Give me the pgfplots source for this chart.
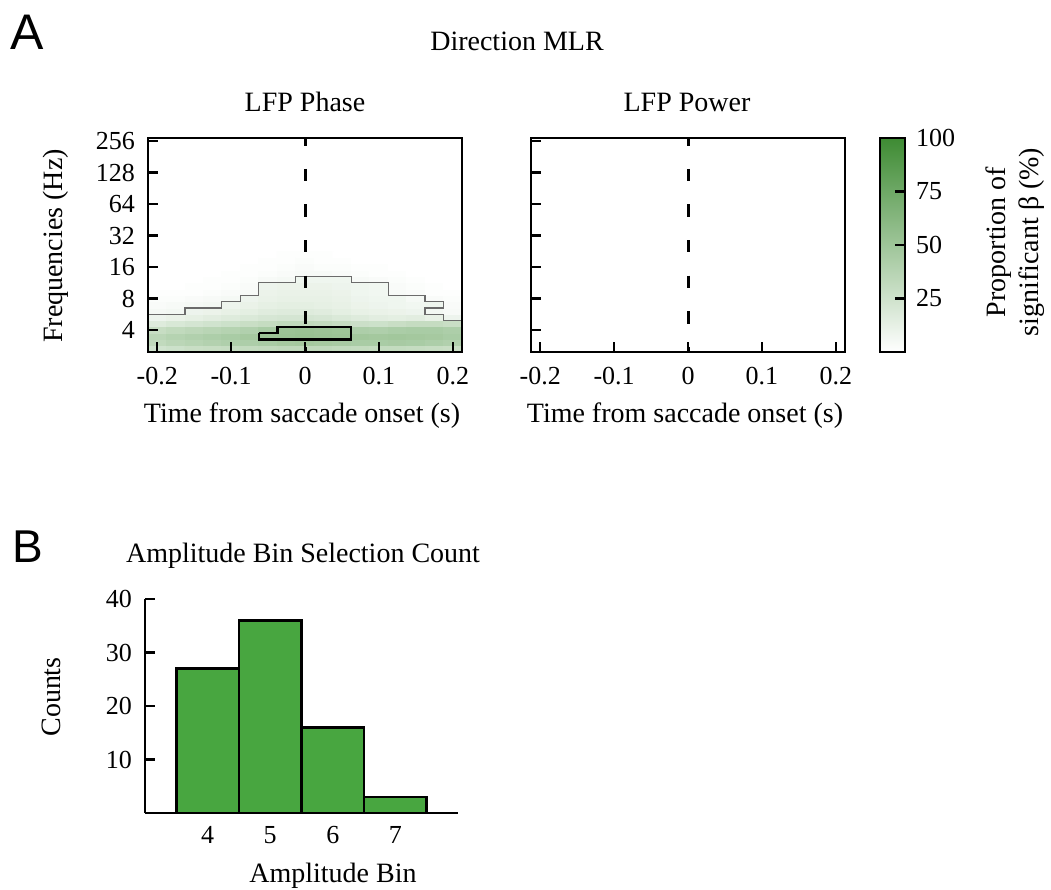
\documentclass[border=0pt]{standalone}
\usepackage{fontspec}
\setmainfont{Liberation Serif}
\newfontfamily\panelfont{Liberation Sans}
\usepackage{pgfplots}
\pgfplotsset{compat=1.18}

\definecolor{bargreen}{RGB}{72,166,64}
\newcommand\tickfont{\fontsize{13}{15}\selectfont}
\newcommand\labfont{\fontsize{14}{16.5}\selectfont}

\pgfplotsset{
  heat/.style={
    anchor=south west, scale only axis,
    width=157pt, height=107pt,
    xmin=-0.2125, xmax=0.2125, ymin=1.3, ymax=8.1,
    enlargelimits=false,
    xtick={-0.2,-0.1,0,0.1,0.2},
    xticklabels={-0.2,-0.1,0,0.1,0.2},
    ytick={2,3,4,5,6,7,8},
    tick align=inside, tick pos=left,
    major tick length=5pt,
    tick style={black, line width=1.2pt},
    axis line style={line width=1pt},
    tick label style={font=\tickfont},
    xticklabel style={yshift=-4pt},
    yticklabel style={xshift=-3pt},
    /pgf/number format/assume math mode=true,
    colormap={greens}{rgb255=(255,255,255) rgb255=(62,139,51)},
    point meta min=0, point meta max=100,
    axis on top,
  },
  onset/.style={black, line width=1.5pt, dash pattern=on 6.2pt off 11.6pt, dash phase=2.4pt},
}

\begin{document}
\begin{tikzpicture}[x=1pt,y=1pt]
\useasboundingbox (0,0) rectangle (525.5,445);

% ---------- LFP phase ----------
\begin{axis}[heat, at={(74pt,269pt)},
  yticklabels={4,8,16,32,64,128,256}]
\addplot[matrix plot*, shader=flat corner, mesh/cols=17, point meta=explicit]
  table[row sep=\\, meta=c] {
x y c\\
-0.2 1.4 24\\ -0.175 1.4 26\\ -0.15 1.4 28\\ -0.125 1.4 29\\ -0.1 1.4 30\\ -0.075 1.4 31\\ -0.05 1.4 32\\ -0.025 1.4 33\\ 0 1.4 33\\ 0.025 1.4 33\\ 0.05 1.4 32\\ 0.075 1.4 31\\ 0.1 1.4 31\\ 0.125 1.4 31\\ 0.15 1.4 30\\ 0.175 1.4 29\\ 0.2 1.4 28\\
-0.2 1.6 32\\ -0.175 1.6 35\\ -0.15 1.6 37\\ -0.125 1.6 39\\ -0.1 1.6 41\\ -0.075 1.6 42\\ -0.05 1.6 44\\ -0.025 1.6 46\\ 0 1.6 47\\ 0.025 1.6 46\\ 0.05 1.6 45\\ 0.075 1.6 44\\ 0.1 1.6 44\\ 0.125 1.6 45\\ 0.15 1.6 44\\ 0.175 1.6 42\\ 0.2 1.6 40\\
-0.2 1.8 35\\ -0.175 1.8 38\\ -0.15 1.8 40\\ -0.125 1.8 42\\ -0.1 1.8 44\\ -0.075 1.8 46\\ -0.05 1.8 51\\ -0.025 1.8 52\\ 0 1.8 53\\ 0.025 1.8 52\\ 0.05 1.8 51\\ 0.075 1.8 48\\ 0.1 1.8 47\\ 0.125 1.8 48\\ 0.15 1.8 47\\ 0.175 1.8 46\\ 0.2 1.8 44\\
-0.2 2.0 29\\ -0.175 2.0 32\\ -0.15 2.0 34\\ -0.125 2.0 36\\ -0.1 2.0 38\\ -0.075 2.0 40\\ -0.05 2.0 44\\ -0.025 2.0 51\\ 0 2.0 52\\ 0.025 2.0 51\\ 0.05 2.0 50\\ 0.075 2.0 42\\ 0.1 2.0 41\\ 0.125 2.0 43\\ 0.15 2.0 44\\ 0.175 2.0 44\\ 0.2 2.0 42\\
-0.2 2.2 17\\ -0.175 2.2 20\\ -0.15 2.2 22\\ -0.125 2.2 24\\ -0.1 2.2 26\\ -0.075 2.2 28\\ -0.05 2.2 30\\ -0.025 2.2 32\\ 0 2.2 32\\ 0.025 2.2 31\\ 0.05 2.2 29\\ 0.075 2.2 27\\ 0.1 2.2 26\\ 0.125 2.2 28\\ 0.15 2.2 30\\ 0.175 2.2 30\\ 0.2 2.2 28\\
-0.2 2.4 9\\ -0.175 2.4 11\\ -0.15 2.4 13\\ -0.125 2.4 15\\ -0.1 2.4 17\\ -0.075 2.4 19\\ -0.05 2.4 21\\ -0.025 2.4 22\\ 0 2.4 22\\ 0.025 2.4 21\\ 0.05 2.4 19\\ 0.075 2.4 17\\ 0.1 2.4 15\\ 0.125 2.4 14\\ 0.15 2.4 15\\ 0.175 2.4 12\\ 0.2 2.4 9\\
-0.2 2.6 5\\ -0.175 2.6 6\\ -0.15 2.6 9\\ -0.125 2.6 10\\ -0.1 2.6 12\\ -0.075 2.6 14\\ -0.05 2.6 16\\ -0.025 2.6 17\\ 0 2.6 17\\ 0.025 2.6 16\\ 0.05 2.6 14\\ 0.075 2.6 12\\ 0.1 2.6 11\\ 0.125 2.6 10\\ 0.15 2.6 9\\ 0.175 2.6 6\\ 0.2 2.6 4\\
-0.2 2.8 3\\ -0.175 2.8 4\\ -0.15 2.8 5\\ -0.125 2.8 6\\ -0.1 2.8 9\\ -0.075 2.8 11\\ -0.05 2.8 13\\ -0.025 2.8 14\\ 0 2.8 14\\ 0.025 2.8 13\\ 0.05 2.8 12\\ 0.075 2.8 10\\ 0.1 2.8 9\\ 0.125 2.8 8\\ 0.15 2.8 7\\ 0.175 2.8 8\\ 0.2 2.8 3\\
-0.2 3.0 2\\ -0.175 3.0 2\\ -0.15 3.0 3\\ -0.125 3.0 4\\ -0.1 3.0 5\\ -0.075 3.0 9\\ -0.05 3.0 11\\ -0.025 3.0 12\\ 0 3.0 12\\ 0.025 3.0 12\\ 0.05 3.0 11\\ 0.075 3.0 9\\ 0.1 3.0 8\\ 0.125 3.0 8\\ 0.15 3.0 5\\ 0.175 3.0 3\\ 0.2 3.0 2\\
-0.2 3.2 1\\ -0.175 3.2 1\\ -0.15 3.2 1\\ -0.125 3.2 2\\ -0.1 3.2 3\\ -0.075 3.2 4\\ -0.05 3.2 10\\ -0.025 3.2 11\\ 0 3.2 11\\ 0.025 3.2 11\\ 0.05 3.2 10\\ 0.075 3.2 8\\ 0.1 3.2 7\\ 0.125 3.2 4\\ 0.15 3.2 3\\ 0.175 3.2 1\\ 0.2 3.2 1\\
-0.2 3.4 0\\ -0.175 3.4 0\\ -0.15 3.4 1\\ -0.125 3.4 1\\ -0.1 3.4 2\\ -0.075 3.4 3\\ -0.05 3.4 9\\ -0.025 3.4 10\\ 0 3.4 10\\ 0.025 3.4 10\\ 0.05 3.4 9\\ 0.075 3.4 8\\ 0.1 3.4 7\\ 0.125 3.4 3\\ 0.15 3.4 2\\ 0.175 3.4 1\\ 0.2 3.4 0\\
-0.2 3.6 0\\ -0.175 3.6 0\\ -0.15 3.6 0\\ -0.125 3.6 1\\ -0.1 3.6 1\\ -0.075 3.6 2\\ -0.05 3.6 4\\ -0.025 3.6 5\\ 0 3.6 8\\ 0.025 3.6 8\\ 0.05 3.6 8\\ 0.075 3.6 4\\ 0.1 3.6 3\\ 0.125 3.6 2\\ 0.15 3.6 1\\ 0.175 3.6 0\\ 0.2 3.6 0\\
-0.2 3.8 0\\ -0.175 3.8 0\\ -0.15 3.8 0\\ -0.125 3.8 0\\ -0.1 3.8 1\\ -0.075 3.8 1\\ -0.05 3.8 2\\ -0.025 3.8 3\\ 0 3.8 4\\ 0.025 3.8 4\\ 0.05 3.8 3\\ 0.075 3.8 2\\ 0.1 3.8 1\\ 0.125 3.8 1\\ 0.15 3.8 0\\ 0.175 3.8 0\\ 0.2 3.8 0\\
-0.2 4.0 0\\ -0.175 4.0 0\\ -0.15 4.0 0\\ -0.125 4.0 0\\ -0.1 4.0 0\\ -0.075 4.0 1\\ -0.05 4.0 1\\ -0.025 4.0 2\\ 0 4.0 3\\ 0.025 4.0 2\\ 0.05 4.0 2\\ 0.075 4.0 1\\ 0.1 4.0 1\\ 0.125 4.0 0\\ 0.15 4.0 0\\ 0.175 4.0 0\\ 0.2 4.0 0\\
-0.2 4.2 0\\ -0.175 4.2 0\\ -0.15 4.2 0\\ -0.125 4.2 0\\ -0.1 4.2 0\\ -0.075 4.2 0\\ -0.05 4.2 1\\ -0.025 4.2 1\\ 0 4.2 2\\ 0.025 4.2 1\\ 0.05 4.2 1\\ 0.075 4.2 0\\ 0.1 4.2 0\\ 0.125 4.2 0\\ 0.15 4.2 0\\ 0.175 4.2 0\\ 0.2 4.2 0\\
-0.2 4.4 0\\ -0.175 4.4 0\\ -0.15 4.4 0\\ -0.125 4.4 0\\ -0.1 4.4 0\\ -0.075 4.4 0\\ -0.05 4.4 0\\ -0.025 4.4 1\\ 0 4.4 1\\ 0.025 4.4 1\\ 0.05 4.4 0\\ 0.075 4.4 0\\ 0.1 4.4 0\\ 0.125 4.4 0\\ 0.15 4.4 0\\ 0.175 4.4 0\\ 0.2 4.4 0\\
};
% cluster outline
\addplot[draw=black!58, line width=0.6pt] coordinates {
  (-0.2125,2.5) (-0.1625,2.5) (-0.1625,2.7) (-0.1125,2.7) (-0.1125,2.9)
  (-0.0875,2.9) (-0.0875,3.1) (-0.0625,3.1) (-0.0625,3.5) (-0.0125,3.5)
  (-0.0125,3.7) (0.0625,3.7) (0.0625,3.5) (0.1125,3.5) (0.1125,3.1)
  (0.1625,3.1) (0.1625,2.9) (0.1875,2.9) (0.1875,2.7) (0.1625,2.7)
  (0.1625,2.5) (0.1875,2.5) (0.1875,2.3) (0.2125,2.3)};
% strongest cluster
\addplot[black, line width=1.3pt, line join=miter] coordinates {
  (-0.0625,1.9) (-0.0375,1.9) (-0.0375,2.1) (0.0625,2.1)
  (0.0625,1.7) (-0.0625,1.7) (-0.0625,1.9)};
\addplot[onset] coordinates {(0,8.1) (0,1.3)};
\end{axis}

% ---------- LFP power ----------
\begin{axis}[heat, at={(265.5pt,269pt)},
  yticklabels={},
  colorbar,
  colorbar style={
    at={(parent axis.north east)}, anchor=north west, xshift=9pt,
    scale only axis, width=12.5pt, height=107pt,
    ytick={25,50,75,100},
    ytick align=inside, ytick pos=right, yticklabel pos=right,
    major tick length=5pt,
    tick style={black, line width=1.2pt},
    axis line style={line width=1.2pt},
    yticklabel style={font=\tickfont, xshift=2pt},
    /pgf/number format/assume math mode=true,
  }]
\addplot[onset] coordinates {(0,8.1) (0,1.3)};
\end{axis}

% ---------- amplitude bins ----------
\begin{axis}[at={(72.5pt,38.5pt)}, anchor=south west, scale only axis,
  width=156.5pt, height=107pt,
  xmin=3, xmax=8, ymin=0, ymax=40,
  axis lines=left, axis line style={-, line width=1.2pt},
  tick align=inside,
  xtick={4,5,6,7}, ytick={10,20,30,40},
  major tick length=5pt,
  xtick style={draw=none}, ytick style={black, line width=1.2pt},
  tick label style={font=\tickfont},
  xticklabel style={yshift=-3pt},
  yticklabel style={xshift=-3pt},
  /pgf/number format/assume math mode=true]
\addplot[ybar, bar width=1, fill=bargreen, draw=black, line width=1.3pt]
  coordinates {(4,27) (5,36) (6,16) (7,3)};
\end{axis}

% ---------- text ----------
\node[anchor=base west, font=\panelfont\fontsize{25}{27}\selectfont, inner sep=0] at (5,420) {A};
\node[anchor=base west, font=\panelfont\fontsize{23}{25}\selectfont, inner sep=0] at (6,163.5) {B};
\node[anchor=base, font=\labfont, inner sep=0] at (258.5,419.5) {Direction MLR};
\node[anchor=base, font=\labfont, inner sep=0] at (152.5,389) {LFP Phase};
\node[anchor=base, font=\labfont, inner sep=0] at (343.5,389) {LFP Power};
\node[anchor=base, font=\labfont, inner sep=0] at (151,233.5) {Time from saccade onset (s)};
\node[anchor=base, font=\labfont, inner sep=0] at (342.5,233.5) {Time from saccade onset (s)};
\node[rotate=90, font=\labfont, inner sep=0] at (28,322) {Frequencies (Hz)};
\node[rotate=90, font=\labfont, inner sep=0, align=center] at (507.5,324) {Proportion of\\significant β (\%)};
\node[anchor=base, font=\labfont, inner sep=0] at (151.5,163.5) {Amplitude Bin Selection Count};
\node[rotate=90, font=\labfont, inner sep=0] at (25.5,96.5) {Counts};
\node[anchor=base, font=\labfont, inner sep=0] at (166.5,3.5) {Amplitude Bin};
\end{tikzpicture}
\end{document}
